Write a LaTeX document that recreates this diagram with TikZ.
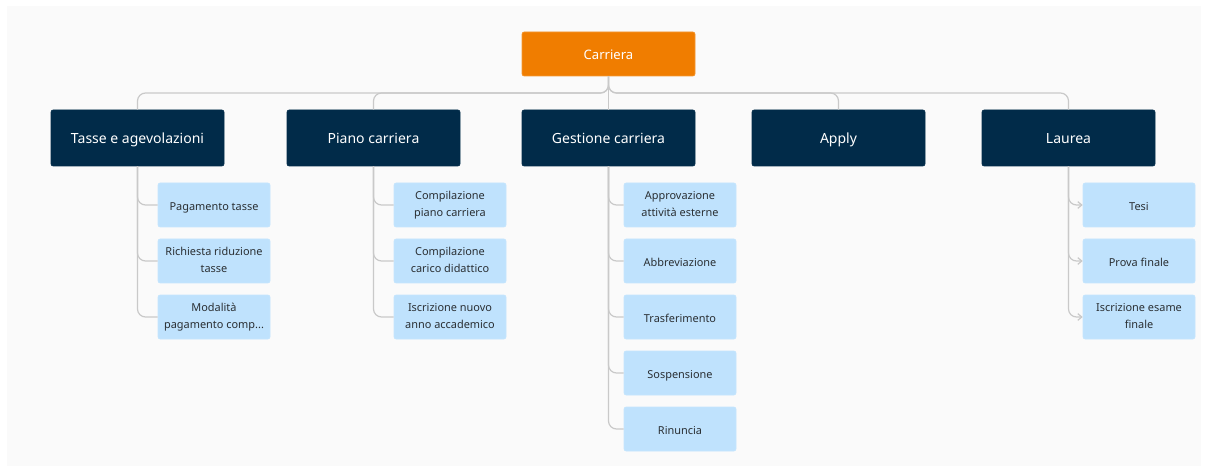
\documentclass[tikz,border=0pt]{standalone}
\usepackage{fontspec}
\setmainfont{Noto Sans}
\usetikzlibrary{arrows.meta}
\definecolor{bgc}{HTML}{FAFAFA}
\definecolor{navy}{HTML}{012B49}
\definecolor{orng}{HTML}{F07D00}
\definecolor{lblue}{HTML}{BFE2FD}
\definecolor{linec}{HTML}{C9C9C9}
\definecolor{txtd}{HTML}{2A2F33}
\tikzset{
  rootbox/.style={fill=orng, draw=orng!80!white, rounded corners=1.5pt, minimum width=129.75pt, minimum height=33pt, text=white, font=\fontsize{9.8}{12}\selectfont, inner sep=0pt, text height=1.6ex, text depth=0.15ex},
  topbox/.style={fill=navy, draw=navy, rounded corners=1.5pt, minimum width=129.75pt, minimum height=42pt, text=white, font=\fontsize{10.5}{12}\selectfont, inner sep=0pt, text height=1.6ex, text depth=0.15ex},
  leafbox/.style={fill=lblue, draw=lblue!90!white, rounded corners=1.5pt, minimum width=84pt, minimum height=33pt, text=txtd, font=\fontsize{8.2}{12.75}\selectfont, align=center, inner sep=0pt, execute at begin node={\rule{0pt}{9.5pt}}, execute at end node={\rule[-1.5pt]{0pt}{1.5pt}}},
  conn/.style={draw=linec, line width=0.9pt, rounded corners=6pt},
  arr/.style={conn, -{Straight Barb[length=3pt,width=5pt]}}
}
\begin{document}
\begin{tikzpicture}[x=0.75pt,y=-0.75pt]
\useasboundingbox (0,0) rectangle (1206,470);
\fill[bgc] (7,6) rectangle (1201,466);

\node[rootbox] (root) at (608.5,54) {Carriera};

\node[topbox] (tasse) at (137.5,138) {Tasse e agevolazioni};
\node[topbox] (piano) at (373.5,138) {Piano carriera};
\node[topbox] (gest) at (608.5,138) {Gestione carriera};
\node[topbox] (apply) at (838.5,138) {Apply};
\node[topbox] (laurea) at (1068.5,138) {Laurea};

\node[leafbox] (t1) at (214,205) {Pagamento tasse};
\node[leafbox] (t2) at (214,261) {Richiesta riduzione\\tasse};
\node[leafbox] (t3) at (214,317) {Modalità\\pagamento comp...};

\node[leafbox] (p1) at (450,205) {Compilazione\\piano carriera};
\node[leafbox] (p2) at (450,261) {Compilazione\\carico didattico};
\node[leafbox] (p3) at (450,317) {Iscrizione nuovo\\anno accademico};

\node[leafbox] (g1) at (680,205) {Approvazione\\attività esterne};
\node[leafbox] (g2) at (680,261) {Abbreviazione};
\node[leafbox] (g3) at (680,317) {Trasferimento};
\node[leafbox] (g4) at (680,373) {Sospensione};
\node[leafbox] (g5) at (680,429) {Rinuncia};

\node[leafbox] (l1) at (1139,205) {Tesi};
\node[leafbox] (l2) at (1139,261) {Prova finale};
\node[leafbox] (l3) at (1139,317) {Iscrizione esame\\finale};

% top connectors
\coordinate (split) at (608.5,93);
\foreach \n in {tasse,piano,apply,laurea}{
  \draw[conn] (root.south) -- (split) -| (\n.north);
}
\draw[conn] (root.south) -- (gest.north);

% child connectors
\foreach \p/\c in {tasse/t1,tasse/t2,tasse/t3,piano/p1,piano/p2,piano/p3,gest/g1,gest/g2,gest/g3,gest/g4,gest/g5}{
  \draw[conn] (\p.south) |- (\c.west);
}
\foreach \c in {l1,l2,l3}{
  \draw[arr] (laurea.south) |- (\c.west);
}
\end{tikzpicture}
\end{document}
